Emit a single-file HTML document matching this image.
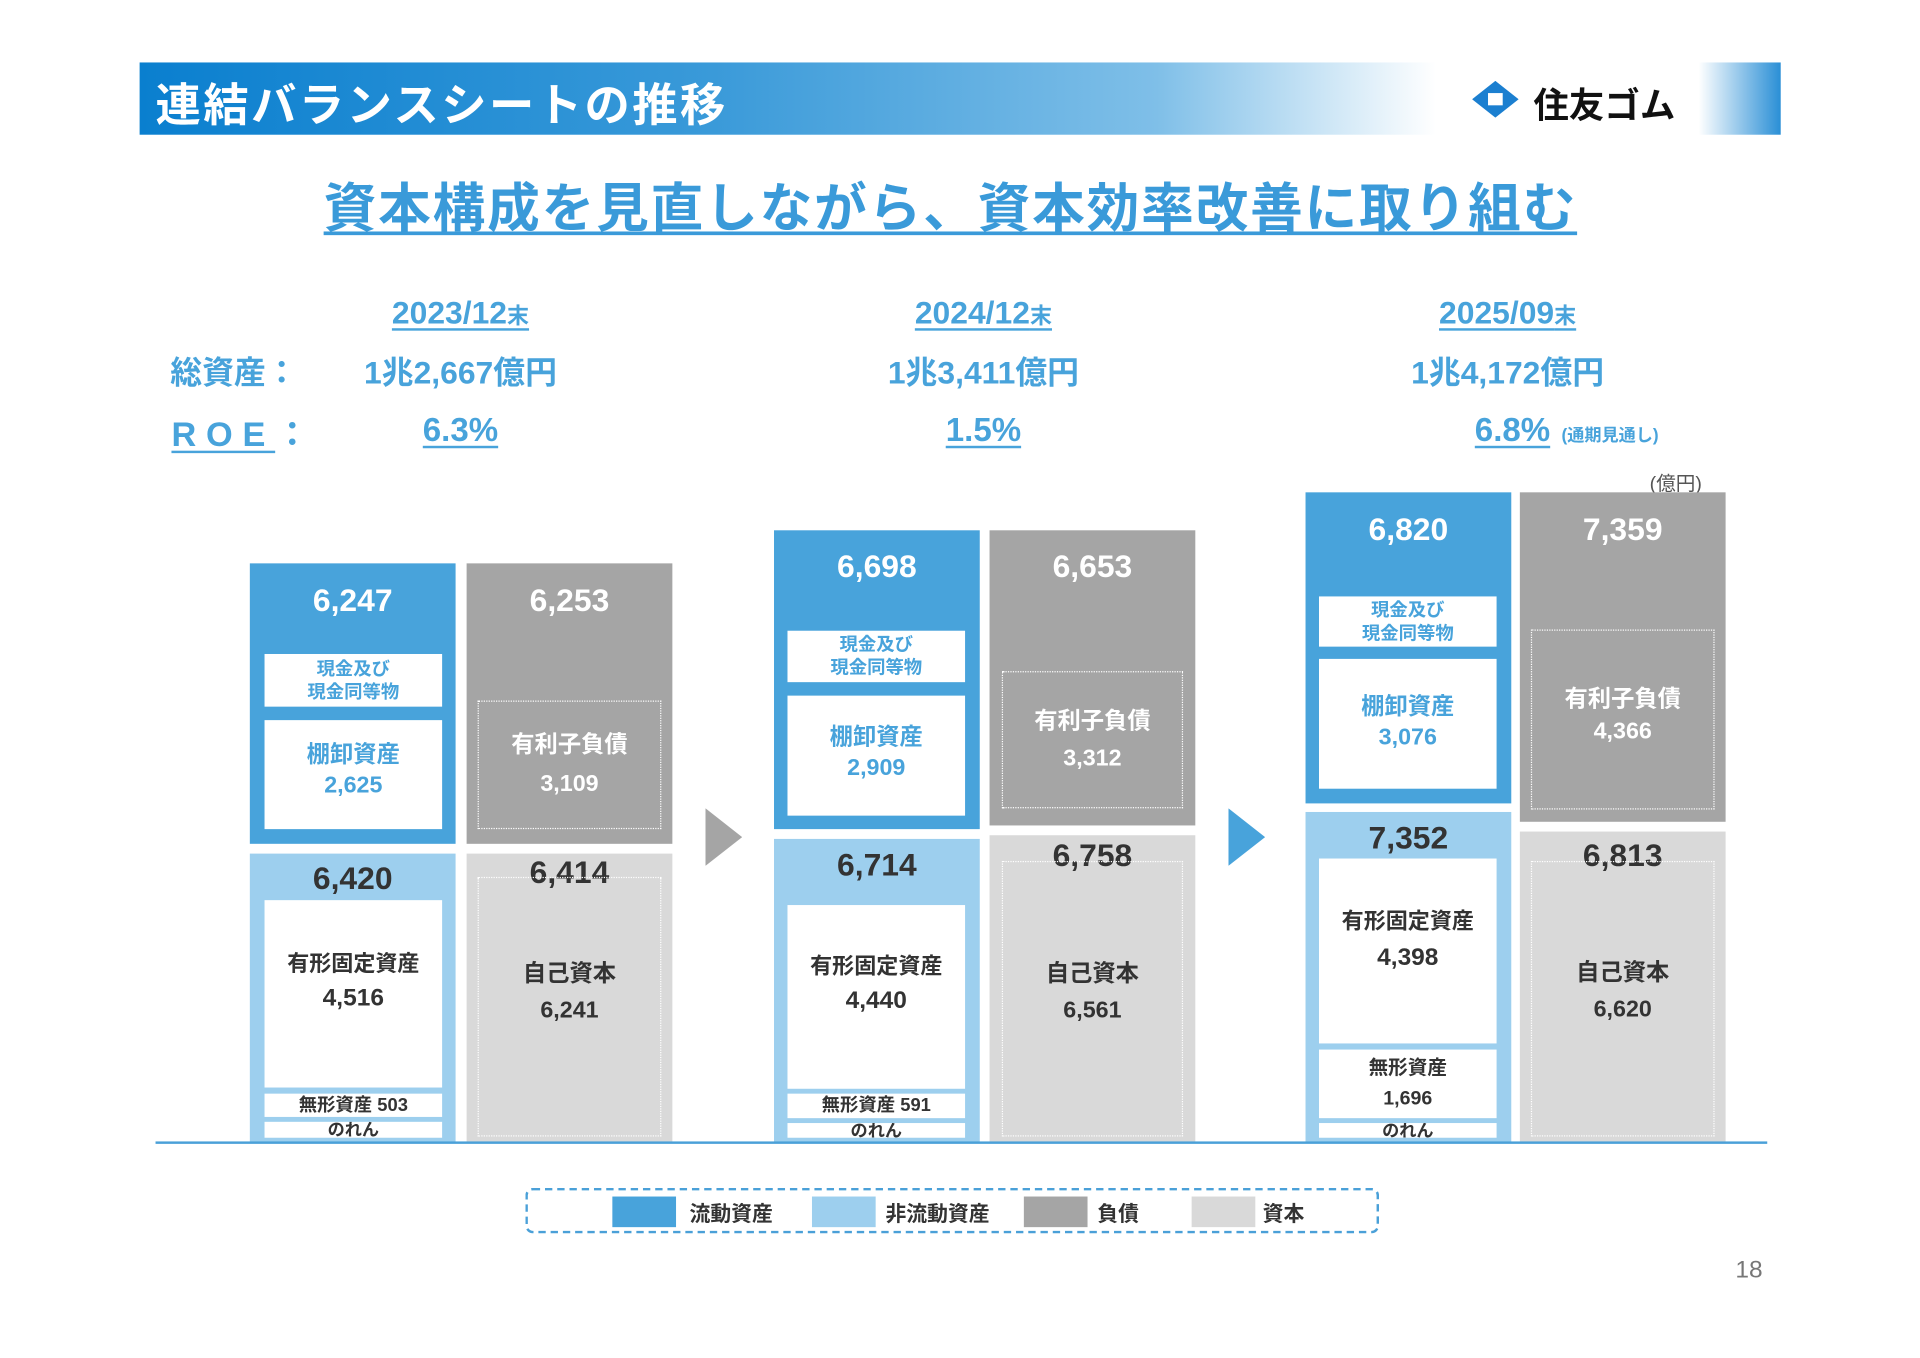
<!DOCTYPE html>
<html><head><meta charset="utf-8"><style>
*{margin:0;padding:0;box-sizing:border-box}
body{width:1920px;height:1358px;background:#fff;overflow:hidden;font-family:"Liberation Sans","Noto Sans CJK JP",sans-serif}
#s{position:absolute;left:0;top:0;width:1568px;height:1109px;transform:scale(1.2247);transform-origin:0 0}
.a{position:absolute}
.c{position:absolute;text-align:center;font-weight:bold;white-space:nowrap}
.b1{background:#48a3db}.b2{background:#9dcfee}.b3{background:#a5a5a5}.b4{background:#d9d9d9}
.w{background:#fff}
.dash{position:absolute;border:1.5px dotted #fff}
.v{color:#fff;font-size:26px}
.dk{color:#333}
.bl{color:#48a3db}
.u{text-decoration:underline;text-decoration-thickness:2px;text-underline-offset:4px}
</style></head><body><div id="s">
<div class="a" style="left:114px;top:51px;width:1340px;height:59px;background:linear-gradient(90deg,#0a7fcf 0%,#3a9ad9 35%,#7fbfe8 62%,#fff 79%,#fff 95%,#2a8fd6 100%)"></div>
<div class="a" style="left:127px;top:56px;color:#fff;font-size:37px;font-weight:bold;letter-spacing:2px">連結バランスシートの推移</div>
<div class="a" style="left:1202px;top:66px;width:38px;height:30px;background:#1b7fd0;clip-path:polygon(50% 0,100% 50%,50% 100%,0 50%)"></div>
<div class="a" style="left:1215px;top:76px;width:12px;height:10px;background:#fff"></div>
<div class="a" style="left:1252px;top:63px;font-size:29px;font-weight:bold;color:#111">住友ゴム</div>
<div class="c u" style="left:262px;top:136px;width:1028px;font-size:43px;color:#3a9ad9;text-decoration-thickness:3px;letter-spacing:1.5px">資本構成を見直しながら、資本効率改善に取り組む</div>

<div class="c u bl" style="left:276px;top:240px;width:200px;font-size:26px">2023/12<span style="font-size:18px">末</span></div>
<div class="c u bl" style="left:703px;top:240px;width:200px;font-size:26px">2024/12<span style="font-size:18px">末</span></div>
<div class="c u bl" style="left:1131px;top:240px;width:200px;font-size:26px">2025/09<span style="font-size:18px">末</span></div>
<div class="a bl" style="left:139px;top:284px;font-size:26px;font-weight:bold">総資産：</div>
<div class="c bl" style="left:276px;top:284px;width:200px;font-size:26px">1兆2,667億円</div>
<div class="c bl" style="left:703px;top:284px;width:200px;font-size:26px">1兆3,411億円</div>
<div class="c bl" style="left:1131px;top:284px;width:200px;font-size:26px">1兆4,172億円</div>
<div class="a bl" style="left:140px;top:333px;font-size:28px;font-weight:bold;letter-spacing:8px"><span class="u">ROE</span>：</div>
<div class="c u bl" style="left:326px;top:336px;width:100px;font-size:27px">6.3%</div>
<div class="c u bl" style="left:753px;top:336px;width:100px;font-size:27px">1.5%</div>
<div class="c u bl" style="left:1185px;top:336px;width:100px;font-size:27px">6.8%</div>
<div class="a bl" style="left:1275px;top:345px;font-size:14px;font-weight:bold">(通期見通し)</div>
<div class="a" style="left:1347px;top:381px;font-size:16px;color:#555">(億円)</div>

<!-- Group1 -->
<div class="a b1" style="left:204px;top:460px;width:168px;height:229px"></div>
<div class="c v" style="left:204px;top:475px;width:168px">6,247</div>
<div class="a w c bl" style="left:216px;top:534px;width:145px;height:43px;font-size:15px;line-height:19px;padding-top:3px">現金及び<br>現金同等物</div>
<div class="a w c bl" style="left:216px;top:588px;width:145px;height:89px;font-size:19px;line-height:25px;padding-top:16px">棚卸資産<br>2,625</div>
<div class="a b2" style="left:204px;top:697px;width:168px;height:236px"></div>
<div class="c dk" style="left:204px;top:702px;width:168px;font-size:26px">6,420</div>
<div class="a w c dk" style="left:216px;top:735px;width:145px;height:153px;font-size:18px;line-height:28px;padding-top:38px">有形固定資産<br><span style="font-size:20px">4,516</span></div>
<div class="a w c dk" style="left:216px;top:893px;width:145px;height:19px;font-size:15px;line-height:19px">無形資産 503</div>
<div class="a w c dk" style="left:216px;top:916px;width:145px;height:13px;font-size:14px;line-height:13px;overflow:hidden">のれん</div>
<div class="a b3" style="left:381px;top:460px;width:168px;height:229px"></div>
<div class="c v" style="left:381px;top:475px;width:168px">6,253</div>
<div class="dash c" style="left:390px;top:572px;width:150px;height:105px;color:#fff;font-size:19px;line-height:32px;padding-top:20px">有利子負債<br>3,109</div>
<div class="a b4" style="left:381px;top:697px;width:168px;height:236px"></div>
<div class="c dk" style="left:381px;top:697px;width:168px;font-size:26px">6,414</div>
<div class="dash c dk" style="left:390px;top:716px;width:150px;height:212px;font-size:19px;line-height:30px;padding-top:64px">自己資本<br>6,241</div>

<div class="a" style="left:576px;top:660px;width:30px;height:47px;background:#a5a5a5;clip-path:polygon(0 0,100% 50%,0 100%)"></div>

<!-- Group2 -->
<div class="a b1" style="left:632px;top:433px;width:168px;height:244px"></div>
<div class="c v" style="left:632px;top:447px;width:168px">6,698</div>
<div class="a w c bl" style="left:643px;top:515px;width:145px;height:42px;font-size:15px;line-height:19px;padding-top:2px">現金及び<br>現金同等物</div>
<div class="a w c bl" style="left:643px;top:568px;width:145px;height:98px;font-size:19px;line-height:25px;padding-top:22px">棚卸資産<br>2,909</div>
<div class="a b2" style="left:632px;top:685px;width:168px;height:248px"></div>
<div class="c dk" style="left:632px;top:691px;width:168px;font-size:26px">6,714</div>
<div class="a w c dk" style="left:643px;top:739px;width:145px;height:150px;font-size:18px;line-height:28px;padding-top:36px">有形固定資産<br><span style="font-size:20px">4,440</span></div>
<div class="a w c dk" style="left:643px;top:893px;width:145px;height:20px;font-size:15px;line-height:20px">無形資産 591</div>
<div class="a w c dk" style="left:643px;top:917px;width:145px;height:12px;font-size:14px;line-height:12px;overflow:hidden">のれん</div>
<div class="a b3" style="left:808px;top:433px;width:168px;height:241px"></div>
<div class="c v" style="left:808px;top:447px;width:168px">6,653</div>
<div class="dash c" style="left:818px;top:548px;width:148px;height:112px;color:#fff;font-size:19px;line-height:30px;padding-top:26px">有利子負債<br>3,312</div>
<div class="a b4" style="left:808px;top:682px;width:168px;height:251px"></div>
<div class="c dk" style="left:808px;top:683px;width:168px;font-size:26px">6,758</div>
<div class="dash c dk" style="left:818px;top:703px;width:148px;height:225px;font-size:19px;line-height:30px;padding-top:77px">自己資本<br>6,561</div>

<div class="a" style="left:1003px;top:660px;width:30px;height:47px;background:#48a3db;clip-path:polygon(0 0,100% 50%,0 100%)"></div>

<!-- Group3 -->
<div class="a b1" style="left:1066px;top:402px;width:168px;height:254px"></div>
<div class="c v" style="left:1066px;top:417px;width:168px">6,820</div>
<div class="a w c bl" style="left:1077px;top:487px;width:145px;height:41px;font-size:15px;line-height:19px;padding-top:2px">現金及び<br>現金同等物</div>
<div class="a w c bl" style="left:1077px;top:538px;width:145px;height:106px;font-size:19px;line-height:25px;padding-top:27px">棚卸資産<br>3,076</div>
<div class="a b2" style="left:1066px;top:663px;width:168px;height:270px"></div>
<div class="c dk" style="left:1066px;top:669px;width:168px;font-size:26px">7,352</div>
<div class="a w c dk" style="left:1077px;top:701px;width:145px;height:151px;font-size:18px;line-height:30px;padding-top:36px">有形固定資産<br><span style="font-size:20px">4,398</span></div>
<div class="a w c dk" style="left:1077px;top:857px;width:145px;height:56px;font-size:16px;line-height:25px;padding-top:3px">無形資産<br>1,696</div>
<div class="a w c dk" style="left:1077px;top:917px;width:145px;height:12px;font-size:14px;line-height:12px;overflow:hidden">のれん</div>
<div class="a b3" style="left:1241px;top:402px;width:168px;height:269px"></div>
<div class="c v" style="left:1241px;top:417px;width:168px">7,359</div>
<div class="dash c" style="left:1250px;top:514px;width:150px;height:147px;color:#fff;font-size:19px;line-height:26px;padding-top:44px">有利子負債<br>4,366</div>
<div class="a b4" style="left:1241px;top:679px;width:168px;height:254px"></div>
<div class="c dk" style="left:1241px;top:683px;width:168px;font-size:26px">6,813</div>
<div class="dash c dk" style="left:1250px;top:703px;width:150px;height:225px;font-size:19px;line-height:30px;padding-top:76px">自己資本<br>6,620</div>

<div class="a" style="left:127px;top:932px;width:1316px;height:2px;background:#4aa0d8"></div>

<div class="a" style="left:429px;top:970px;width:697px;height:37px;border:2px dashed #4aa0d8;border-radius:6px"></div>
<div class="a b1" style="left:500px;top:977px;width:52px;height:25px"></div>
<div class="a dk" style="left:563px;top:977px;font-size:17px;font-weight:bold">流動資産</div>
<div class="a b2" style="left:663px;top:977px;width:52px;height:25px"></div>
<div class="a dk" style="left:723px;top:977px;font-size:17px;font-weight:bold">非流動資産</div>
<div class="a b3" style="left:836px;top:977px;width:52px;height:25px"></div>
<div class="a dk" style="left:896px;top:977px;font-size:17px;font-weight:bold">負債</div>
<div class="a b4" style="left:973px;top:977px;width:52px;height:25px"></div>
<div class="a dk" style="left:1031px;top:977px;font-size:17px;font-weight:bold">資本</div>
<div class="a" style="left:1417px;top:1026px;font-size:20px;color:#777">18</div>
</div></body></html>
